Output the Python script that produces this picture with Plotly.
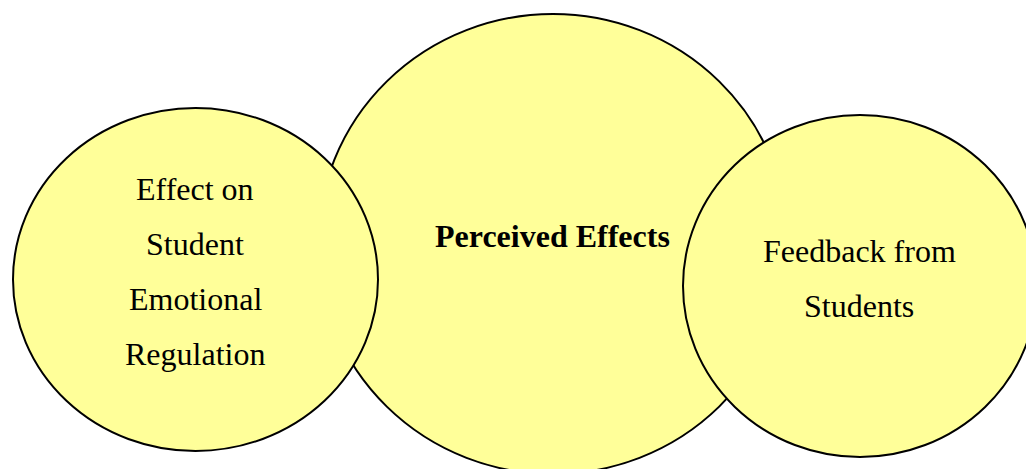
import plotly.graph_objects as go

# Circle data (pixel coordinates of the diagram canvas)
circle_names = ["Perceived Effects", "Effect on Student Emotional Regulation", "Feedback from Students"]
circle_cx = [553, 195.5, 860]
circle_cy = [244, 279.5, 286]
circle_rx = [235, 182.5, 177]
circle_ry = [230, 171.5, 171]

# Text lines for each circle and their baselines
label_lines = [
    ["<b>Perceived Effects</b>"],
    ["Effect on", "Student", "Emotional", "Regulation"],
    ["Feedback from", "Students"],
]
label_x = [552, 195, 859]
label_baselines = [[247], [200, 255, 310, 365], [262, 317]]

W, H = 1026, 469
FILL = "#FFFF99"
FONT = "Liberation Serif, Times New Roman, serif"
FS = 32

fig = go.Figure()
fig.add_trace(go.Scatter(x=[0, W], y=[0, H], mode="markers",
                         marker=dict(opacity=0), hoverinfo="skip", showlegend=False))

for cx, cy, rx, ry in zip(circle_cx, circle_cy, circle_rx, circle_ry):
    fig.add_shape(type="circle", xref="x", yref="y",
                  x0=cx - rx, x1=cx + rx, y0=cy - ry, y1=cy + ry,
                  fillcolor=FILL, line=dict(color="black", width=2), layer="above")

for lines, lx, bases in zip(label_lines, label_x, label_baselines):
    for txt, b in zip(lines, bases):
        fig.add_annotation(x=lx, y=b - 11, xref="x", yref="y", text=txt,
                           showarrow=False, xanchor="center", yanchor="middle",
                           font=dict(family=FONT, size=FS, color="black"))

fig.update_xaxes(range=[0, W], visible=False, fixedrange=True)
fig.update_yaxes(range=[H, 0], visible=False, fixedrange=True)
fig.update_layout(width=W, height=H, margin=dict(l=0, r=0, t=0, b=0),
                  paper_bgcolor="white", plot_bgcolor="white", showlegend=False)

fig.write_html("out.html", config={"displayModeBar": False},
               post_script="document.body.style.margin='0';document.body.style.overflow='hidden';")
